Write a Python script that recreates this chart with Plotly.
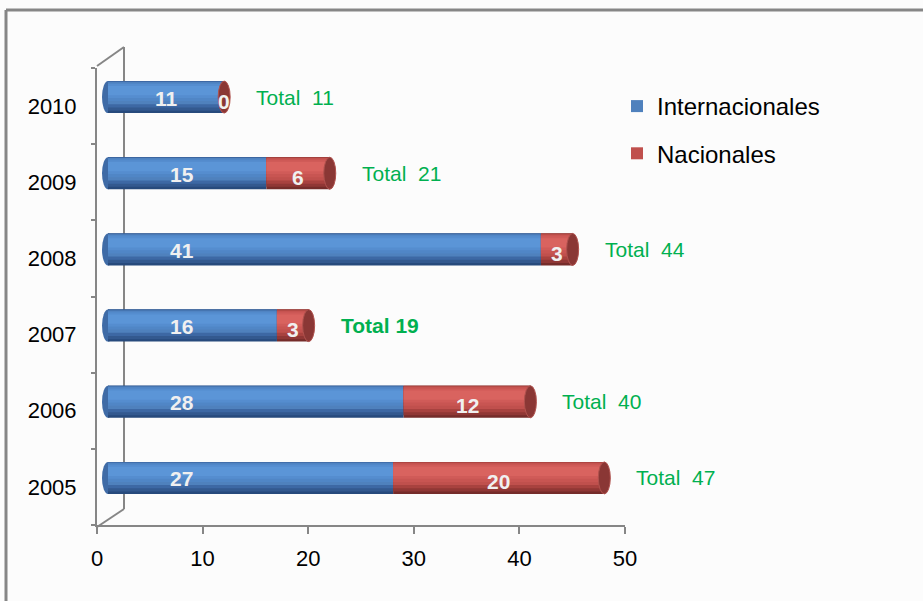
import plotly.graph_objects as go

# ---------------- data ----------------
years = ["2005", "2006", "2007", "2008", "2009", "2010"]
internacionales = [27, 28, 16, 41, 15, 11]
nacionales = [20, 12, 3, 3, 6, 0]
totals = [i + n for i, n in zip(internacionales, nacionales)]
x_ticks = [0, 10, 20, 30, 40, 50]
highlight_year = "2007"

# ---------------- geometry helpers (layout only) ----------------
W, H = 923, 601
ML, MR, MT, MB = 97, 298, 68, 76
PW, PH = W - ML - MR, H - MT - MB
XMAX = 50
ppu = PW / XMAX                # pixels per value unit
band = PH / len(years)         # pixels per category
depth_dx, depth_dy = 11, 9     # 3-D depth offset of bars (px)


def px(xp):
    return (xp - ML) / PW


def py(yp):
    return (H - MB - yp) / PH


FONT = "Liberation Sans, Arial, sans-serif"
AX_COL = "#868686"

blue_layers = [(-1.0, 1.0, "#274A7C"), (-0.85, 1.0, "#33598F"),
               (-0.65, 1.0, "#3D68A4"), (-0.45, 0.95, "#4F81BD"),
               (-0.25, 0.9, "#5086C6"), (-0.05, 0.82, "#558DCF"),
               (0.12, 0.7, "#5B95D7")]
red_layers = [(-1.0, 1.0, "#752C2A"), (-0.85, 1.0, "#903735"),
              (-0.65, 1.0, "#A8423F"), (-0.45, 0.95, "#C0504D"),
              (-0.25, 0.9, "#C85552"), (-0.05, 0.82, "#D05B58"),
              (0.12, 0.7, "#D9635F")]
half = 16 / band               # half bar thickness in category units

fig = go.Figure()

# invisible trace to register the visible axes
fig.add_trace(go.Scatter(x=totals, y=years, mode="none", showlegend=False,
                         hoverinfo="skip", xaxis="x", yaxis="y"))

for name, vals, bases, layers, grp, key in [
    ("Internacionales", internacionales, [0] * len(years), blue_layers, "intl", "#4F81BD"),
    ("Nacionales", nacionales, internacionales, red_layers, "nac", "#C0504D"),
]:
    for lo, hi, col in layers:
        fig.add_trace(go.Bar(
            y=years, x=vals, base=bases, orientation="h",
            width=(hi - lo) * half, offset=lo * half,
            marker=dict(color=col, line=dict(width=0)),
            name=name, legendgroup=grp,
            showlegend=(col == key),
            hoverinfo="skip", xaxis="x2", yaxis="y2",
        ))

shapes = []
# outer frame
shapes.append(dict(type="line", xref="paper", yref="paper",
                   x0=px(6), x1=px(W + 5), y0=py(10), y1=py(10),
                   line=dict(color=AX_COL, width=3)))
shapes.append(dict(type="line", xref="paper", yref="paper",
                   x0=px(6), x1=px(6), y0=py(10), y1=py(H + 5),
                   line=dict(color=AX_COL, width=3)))
# back wall of the 3-D frame
for (x0, y0, x1, y1) in [(124, 47, 124, 509), (97, 66, 124, 47), (97, 527, 124, 509)]:
    shapes.append(dict(type="line", xref="paper", yref="paper", layer="below",
                       x0=px(x0), x1=px(x1), y0=py(y0), y1=py(y1),
                       line=dict(color=AX_COL, width=2)))

# cylinder caps
for i, t in enumerate(totals):
    shapes.append(dict(type="circle", xref="x2", yref="y2", layer="below",
                       xsizemode="pixel", xanchor=0, x0=-6, x1=6,
                       ysizemode="pixel", yanchor=i, y0=-16, y1=16,
                       fillcolor="#3F6BA6", line=dict(width=0)))
    shapes.append(dict(type="circle", xref="x2", yref="y2", layer="above",
                       xsizemode="pixel", xanchor=t, x0=-6, x1=6,
                       ysizemode="pixel", yanchor=i, y0=-16, y1=16,
                       fillcolor="#8A3735", line=dict(color="#B0524E", width=1)))

annotations = []
for i, (y, v, n, t) in enumerate(zip(years, internacionales, nacionales, totals)):
    annotations.append(dict(x=min(v / 2, 7), y=i, xref="x2", yref="y2",
                            text=f"<b>{v}</b>", showarrow=False, yshift=-1,
                            font=dict(family=FONT, size=21, color="#F0F0F0")))
    annotations.append(dict(x=v + n / 2, y=i, xref="x2", yref="y2",
                            text=f"<b>{n}</b>", showarrow=False, yshift=-4,
                            font=dict(family=FONT, size=21, color="#F0F0F0")))
    bold = (y == highlight_year)
    label = f"<b>Total {t}</b>" if bold else f"Total&nbsp;&nbsp;{t}"
    annotations.append(dict(x=t, y=i, xref="x2", yref="y2", text=label,
                            showarrow=False, xanchor="left", xshift=30,
                            font=dict(family=FONT, size=21, color="#00B050")))

fig.update_layout(
    width=W, height=H,
    margin=dict(l=ML, r=MR, t=MT, b=MB),
    paper_bgcolor="#FCFCFC", plot_bgcolor="rgba(0,0,0,0)",
    barmode="overlay",
    font=dict(family=FONT, size=22, color="#000000"),
    xaxis=dict(range=[0, XMAX], tickvals=x_ticks, showgrid=False, zeroline=False,
               showline=True, linecolor=AX_COL, linewidth=2,
               ticks="outside", ticklen=7, tickcolor=AX_COL, tickwidth=2,
               ticklabelstandoff=6,
               tickfont=dict(family=FONT, size=22, color="#000000"),
               fixedrange=True),
    yaxis=dict(type="category", categoryorder="array", categoryarray=years,
               range=[-0.5, len(years) - 0.5], showgrid=False, zeroline=False,
               showline=True, linecolor=AX_COL, linewidth=2,
               ticks="outside", ticklen=4, tickcolor=AX_COL, tickwidth=2,
               tickson="boundaries", ticklabelstandoff=14,
               tickfont=dict(family=FONT, size=22, color="#000000"),
               fixedrange=True),
    xaxis2=dict(overlaying="x", anchor="y2", visible=False,
                range=[-depth_dx / ppu, XMAX - depth_dx / ppu], fixedrange=True),
    yaxis2=dict(overlaying="y", anchor="x2", visible=False, type="category",
                categoryorder="array", categoryarray=years,
                range=[-0.5 - depth_dy / band, len(years) - 0.5 - depth_dy / band],
                fixedrange=True),
    legend=dict(x=px(617), y=py(84), xanchor="left", yanchor="top",
                font=dict(family=FONT, size=24, color="#000000"),
                bgcolor="rgba(0,0,0,0)", tracegroupgap=13, traceorder="grouped"),
    shapes=shapes,
    annotations=annotations,
    hovermode=False,
)

fig.write_html("out.html")
